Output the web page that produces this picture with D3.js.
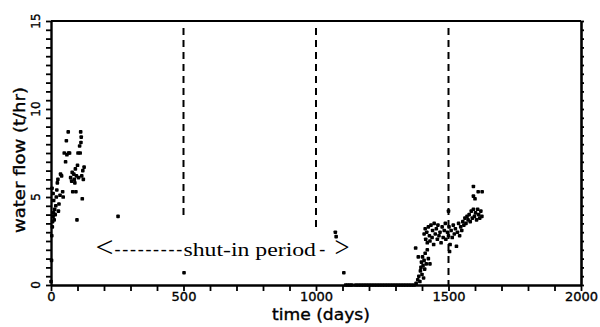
<!DOCTYPE html>
<html>
<head>
<meta charset="utf-8">
<script src="https://cdn.jsdelivr.net/npm/d3@7"></script>
<style>
  html, body { margin: 0; padding: 0; background: #fff; }
  svg { display: block; }
  .tick text { font-family: "DejaVu Sans", sans-serif; }
  .heavy { stroke: #000; stroke-width: 0.35; }
</style>
</head>
<body>
<svg id="chart" width="600" height="327"></svg>
<script>
// Water flow before the shut-in, the zero-flow stretch, and the recovery after restart
const earlyDays   = [0, 2, 3, 5, 6, 8, 10, 12, 14, 16, 18, 20, 22, 24, 4, 8, 10, 26, 28, 30, 34, 36, 40, 44, 46,
                     50, 55, 58, 60, 65, 66, 70, 74, 78, 80, 82, 86, 88, 90, 92, 94, 96, 100, 102, 104, 108,
                     110, 112, 113, 114, 116, 118, 120, 122, 125, 98, 253];
const earlyFlow   = [0.2, 1.4, 2.8, 3.3, 3.6, 3.9, 4.1, 3.7, 4.3, 4.0, 4.5, 5.0, 5.4, 5.8, 5.5, 5.2, 4.8, 6.0, 4.2, 4.6, 5.1, 6.3, 6.2, 5.3, 5.0,
                     7.5, 7.0, 8.2, 7.4, 8.7, 7.5, 7.5, 6.1, 5.9, 6.4, 5.3, 6.3, 6.0, 5.8, 6.6, 5.3, 6.2, 6.8, 7.5, 6.1, 7.9,
                     7.5, 8.7, 8.1, 8.4, 6.2, 4.9, 6.5, 6.0, 6.7, 3.7, 3.9];

const strayDays   = [502, 1073, 1076, 1105];
const strayFlow   = [0.7, 3.0, 2.75, 0.7];

const zeroDays    = [1112, 1120, 1128, 1136, 1150, 1160, 1170, 1180, 1190, 1200, 1210, 1220, 1230, 1240, 1250,
                     1260, 1270, 1280, 1290, 1300, 1310, 1320, 1330, 1340, 1350, 1360, 1370];
const zeroFlow    = [0, 0, 0, 0, 0, 0, 0, 0, 0, 0, 0, 0, 0, 0, 0, 0, 0, 0, 0, 0, 0, 0, 0, 0, 0, 0, 0];

const lateDays    = [1378, 1384, 1388, 1392, 1394, 1396, 1398, 1400, 1402, 1404, 1406, 1408, 1410, 1412, 1416, 1420, 1424, 1430,
                     1376, 1386, 1412, 1408, 1414, 1418, 1420, 1424, 1428, 1430, 1434, 1438, 1440, 1444, 1446, 1450,
                     1454, 1458, 1460, 1464, 1468, 1472, 1476, 1480, 1484, 1488, 1490, 1500, 1496, 1500, 1502, 1504,
                     1506, 1510, 1514, 1518, 1522, 1526, 1530, 1534, 1538, 1542, 1546, 1550, 1554, 1558, 1562, 1566,
                     1570, 1574, 1578, 1582, 1586, 1590, 1594, 1598, 1602, 1606, 1610, 1614, 1618, 1622, 1626,
                     1594, 1612, 1627, 1594, 1600];
const lateFlow    = [0.1, 0.3, 0.5, 0.2, 0.8, 1.0, 1.3, 0.6, 1.6, 1.1, 0.4, 1.4, 0.9, 1.8, 1.2, 2.0, 1.5, 1.2,
                     2.1, 1.6, 3.2, 2.9, 2.6, 3.0, 2.4, 3.3, 2.8, 2.5, 3.4, 2.7, 3.1, 2.3, 3.5, 2.9,
                     3.2, 2.6, 3.4, 2.8, 3.0, 2.4, 3.3, 2.7, 3.1, 3.5, 2.6, 4.2, 3.0, 2.8, 3.3, 1.9,
                     2.3, 3.1, 2.7, 3.4, 2.9, 3.2, 2.2, 3.0, 3.5, 2.8, 3.3, 3.1, 3.6, 3.4, 3.8, 3.5,
                     3.9, 3.7, 4.0, 3.6, 4.2, 3.8, 4.3, 3.9, 4.1, 3.7, 4.3, 4.0, 3.8, 4.2, 3.9,
                     5.6, 5.3, 5.3, 5.05, 4.9];

// Reference lines (day) and the flow level each dashed line stops at
const guideDays   = [500, 1000, 1500];
const guideFloor  = [3.75, 3.3, 0];

const xTickLabels = [0, 500, 1000, 1500, 2000];
const yTickLabels = [0, 5, 10, 15];

const margin = { left: 51, right: 19, top: 21, bottom: 42 };
const W = 600, H = 327;
const svg = d3.select("#chart");

const x = d3.scaleLinear().domain([0, 2000]).range([margin.left, W - margin.right]);
const y = d3.scaleLinear().domain([0, 15]).range([H - margin.bottom, margin.top]);

const minorX = d3.range(0, 2001, 100);
const minorY = d3.range(0, 15.01, 0.5);

// bottom axis: minor ticks every 100 days, labels at 500
const xAxis = svg.append("g")
  .attr("transform", `translate(0,${y(0)})`)
  .call(d3.axisBottom(x).tickValues(minorX).tickSize(6).tickSizeOuter(0)
        .tickFormat(d => xTickLabels.includes(d) ? d : ""));
xAxis.select(".domain").attr("stroke-width", 2.4);
xAxis.selectAll(".tick line").attr("stroke-width", 1.8);
xAxis.selectAll(".tick text").attr("font-size", 13).attr("dy", "0.85em").attr("y", 5).classed("heavy", true);

// left axis with rotated labels
const yAxis = svg.append("g")
  .attr("transform", `translate(${x(0)},0)`)
  .call(d3.axisLeft(y).tickValues(minorY).tickSize(5).tickSizeOuter(0).tickFormat(""));
yAxis.select(".domain").attr("stroke-width", 2.4);
yAxis.selectAll(".tick line").attr("stroke-width", 1.8);
svg.append("g").selectAll("text").data(yTickLabels).join("text")
  .attr("class", "heavy")
  .attr("transform", d => `translate(${x(0) - 11},${y(d)}) rotate(-90)`)
  .attr("text-anchor", "middle")
  .attr("font-family", "DejaVu Sans, sans-serif")
  .attr("font-size", 12)
  .text(d => d);

// right axis: short outward ticks, no labels
const rAxis = svg.append("g")
  .attr("transform", `translate(${x(2000)},0)`)
  .call(d3.axisRight(y).tickValues(minorY).tickSize(3).tickSizeOuter(0).tickFormat(""));
rAxis.select(".domain").attr("stroke-width", 2.6);
rAxis.selectAll(".tick line").attr("stroke-width", 1.8);

// top frame
svg.append("line")
  .attr("x1", x(0)).attr("x2", x(2000)).attr("y1", y(15)).attr("y2", y(15))
  .attr("stroke", "#000").attr("stroke-width", 2);

// dashed reference lines
svg.append("g").selectAll("line").data(guideDays).join("line")
  .attr("x1", d => x(d)).attr("x2", d => x(d))
  .attr("y1", y(14.6)).attr("y2", (d, i) => y(guideFloor[i]))
  .attr("stroke", "#000").attr("stroke-width", 2)
  .attr("stroke-dasharray", "7,5");

// data points
const pts = [];
[[earlyDays, earlyFlow], [strayDays, strayFlow], [zeroDays, zeroFlow], [lateDays, lateFlow]]
  .forEach(([ds, vs]) => ds.forEach((d, i) => pts.push([d, vs[i]])));
svg.append("g").selectAll("rect").data(pts).join("rect")
  .attr("x", d => x(d[0]) - 1.8).attr("y", d => y(d[1]) - 1.8)
  .attr("width", 3.6).attr("height", 3.6).attr("rx", 0.9)
  .attr("fill", "#000");

// axis titles
svg.append("text")
  .attr("class", "heavy")
  .attr("x", (x(0) + x(2000)) / 2 + 5).attr("y", 320)
  .attr("text-anchor", "middle")
  .attr("font-family", "DejaVu Sans, sans-serif").attr("font-size", 15)
  .attr("textLength", 98).attr("lengthAdjust", "spacingAndGlyphs")
  .text("time  (days)");
svg.append("text")
  .attr("class", "heavy")
  .attr("transform", `translate(25,${(y(0) + y(15)) / 2 + 7}) rotate(-90)`)
  .attr("text-anchor", "middle")
  .attr("font-family", "DejaVu Sans, sans-serif").attr("font-size", 15)
  .attr("textLength", 146).attr("lengthAdjust", "spacingAndGlyphs")
  .text("water flow  (t/hr)");

// shut-in period annotation
const note = svg.append("g").attr("font-family", "Liberation Serif, Times New Roman, serif").attr("fill", "#000");
const base = 256;
note.append("text").attr("x", x(168)).attr("y", base + 1).attr("font-size", 30)
  .attr("textLength", 18).attr("lengthAdjust", "spacingAndGlyphs").text("<");
note.append("text").attr("x", x(240)).attr("y", base - 1).attr("font-size", 18)
  .attr("textLength", x(495) - x(240)).attr("lengthAdjust", "spacing").text("---------");
note.append("text").attr("x", x(500)).attr("y", base).attr("font-size", 19)
  .attr("textLength", x(1000) - x(500)).attr("lengthAdjust", "spacingAndGlyphs").text("shut-in period");
note.append("text").attr("x", x(1012)).attr("y", base - 1).attr("font-size", 18).text("-");
note.append("text").attr("x", x(1070)).attr("y", base + 1).attr("font-size", 30)
  .attr("textLength", 15).attr("lengthAdjust", "spacingAndGlyphs").text(">");
</script>
</body>
</html>
